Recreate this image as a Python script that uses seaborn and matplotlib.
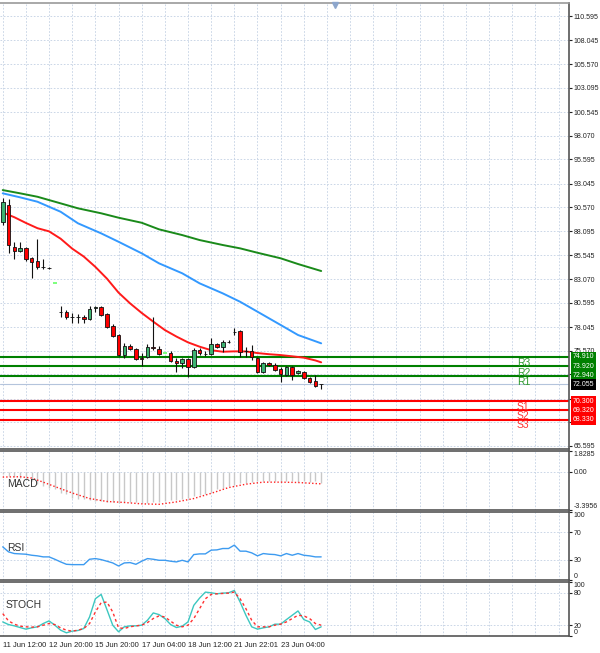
import numpy as np
import pandas as pd
import seaborn as sns
import matplotlib.pyplot as plt
import matplotlib.transforms as mtransforms

# 4H candles
opens = [89.04, 90.81, 86.42, 86.00, 86.31, 85.27, 84.95, 84.35, 84.24, 82.65,
         79.60, 79.62, 79.10, 79.10, 79.09, 78.88, 80.03, 80.14, 79.40, 78.15,
         77.21, 75.12, 76.06, 75.75, 74.85, 74.91, 75.98, 75.75, 75.33, 75.33,
         74.49, 74.28, 74.70, 73.86, 75.64, 75.24, 75.22, 76.27, 75.95, 76.50,
         77.50, 77.63, 75.55, 75.53, 74.80, 73.34, 74.28, 74.07, 73.65, 73.02,
         73.86, 73.23, 73.34, 72.71, 72.39, 72.10]
highs = [91.55, 91.44, 86.93, 86.93, 86.42, 85.37, 87.26, 85.16, 84.32, 82.65,
         80.24, 79.82, 79.51, 79.40, 79.30, 80.24, 80.24, 80.24, 79.51, 78.36,
         77.31, 76.38, 76.27, 75.85, 75.33, 76.27, 79.09, 76.06, 75.33, 75.53,
         74.80, 74.80, 74.80, 75.85, 75.85, 75.53, 76.89, 76.38, 76.69, 76.69,
         77.94, 77.73, 75.95, 76.17, 74.91, 74.38, 74.38, 74.28, 73.86, 73.96,
         73.96, 73.55, 73.44, 72.81, 73.02, 72.10]
lows = [88.72, 85.79, 85.16, 85.89, 84.95, 83.17, 84.11, 84.11, 84.11, 82.65,
        79.09, 78.88, 78.46, 78.46, 78.46, 78.78, 79.62, 79.20, 77.94, 76.99,
        75.01, 74.80, 75.64, 74.59, 73.96, 74.80, 75.64, 75.12, 75.33, 74.38,
        73.34, 73.75, 72.81, 73.75, 75.12, 75.01, 75.12, 75.85, 75.43, 76.38,
        77.21, 74.91, 74.91, 74.59, 73.23, 73.23, 73.96, 73.44, 72.29, 72.92,
        72.50, 73.12, 72.60, 72.18, 71.76, 71.55]
closes = [91.13, 86.63, 86.00, 86.31, 85.16, 84.85, 84.32, 84.30, 84.20, 82.65,
          79.65, 79.09, 79.08, 79.08, 78.88, 79.93, 80.14, 79.30, 78.04, 77.10,
          75.12, 76.06, 75.75, 74.70, 74.75, 75.95, 75.88, 75.22, 75.33, 74.49,
          74.28, 74.70, 73.86, 75.64, 75.33, 75.20, 76.27, 75.95, 76.48, 76.46,
          77.54, 75.43, 75.51, 74.91, 73.34, 74.28, 74.07, 73.55, 73.12, 73.86,
          73.02, 73.44, 72.71, 72.29, 71.87, 72.055]

# moving averages (sampled along the curves)
ma_fast_bars = list(range(0, 56, 2)) + [55]
ma_fast = [90.03, 89.54, 88.94, 88.39, 88.06, 87.29, 86.25, 85.42, 84.34, 83.11,
           81.65, 80.52, 79.52, 78.61, 77.73, 77.05, 76.44, 75.99, 75.62, 75.46,
           75.50, 75.49, 75.32, 75.20, 75.11, 74.98, 74.84, 74.55, 74.35]
ma_slow_bars = [0, 3, 6, 10, 13, 17, 20, 24, 27, 31, 34, 38, 41, 44, 48, 51, 55]
ma_mid = [92.04, 91.62, 91.16, 90.11, 88.90, 87.85, 86.97, 85.76, 84.71, 83.67,
          82.62, 81.57, 80.69, 79.65, 78.26, 77.21, 76.34]
ma_slow = [92.38, 92.04, 91.68, 90.99, 90.47, 89.95, 89.49, 88.96, 88.27, 87.67,
           87.15, 86.63, 86.28, 85.82, 85.24, 84.64, 83.91]

res_levels = [74.910, 73.920, 72.940]
res_names = ['R3', 'R2', 'R1']
sup_levels = [70.300, 69.320, 68.330]
sup_names = ['S1', 'S2', 'S3']
last_price = 72.055

price_ticks = [110.595, 108.045, 105.570, 103.095, 100.545, 98.070, 95.595,
               93.045, 90.570, 88.095, 85.545, 83.070, 80.595, 78.045, 75.570,
               73.095, 70.545, 68.070, 65.595]
hidden_ticks = [73.095, 70.545]   # covered by the level boxes

macd_hist = [-0.22, -0.35, -0.48, -0.57, -0.70, -0.80, -1.05, -1.23, -1.41, -1.58,
             -1.85, -2.02, -2.29, -2.42, -2.46, -2.51, -2.60, -2.64, -2.68, -2.73,
             -2.82, -2.73, -2.73, -2.73, -2.77, -2.82, -2.73, -2.68, -2.60, -2.55,
             -2.51, -2.42, -2.29, -2.16, -2.11, -1.98, -1.80, -1.58, -1.41, -1.28,
             -1.14, -1.01, -0.97, -0.92, -0.84, -0.79, -0.79, -0.79, -0.88, -0.79,
             -0.79, -0.88, -0.84, -0.88, -0.84, -1.01]
macd_sig_bars = [0, 3, 5, 7, 9, 12, 15, 18, 21, 24, 27, 30, 33, 36, 39, 42, 45, 48, 51, 54, 55]
macd_sig = [-0.48, -0.45, -0.57, -0.93, -1.32, -1.89, -2.38, -2.64, -2.73, -2.85,
            -2.89, -2.68, -2.38, -1.92, -1.41, -1.11, -0.93, -0.93, -0.96, -1.05, -1.08]

rsi = [48.8, 41.4, 38.9, 38.4, 37.9, 36.4, 35.5, 34.0, 34.0, 30.5,
       26.6, 23.1, 22.6, 22.6, 22.6, 30.5, 31.5, 30.0, 27.6, 25.1,
       20.6, 25.1, 25.6, 23.1, 27.6, 31.5, 30.5, 29.0, 29.0, 27.6,
       26.6, 29.0, 26.6, 37.4, 38.4, 38.4, 43.9, 44.3, 46.3, 46.3,
       51.3, 42.4, 42.4, 39.9, 35.5, 38.9, 37.9, 37.4, 35.5, 38.9,
       36.4, 38.9, 36.4, 35.5, 34.0, 34.0]

stoch_k = [26.1, 21.2, 18.8, 15.7, 12.7, 15.1, 17.0, 23.1, 28.0, 20.0,
           10.8, 5.9, 9.0, 10.2, 13.9, 35.3, 69.0, 77.0, 48.8, 20.0,
           7.8, 17.0, 18.8, 18.8, 20.0, 29.2, 42.7, 39.6, 32.3, 21.2,
           15.7, 18.2, 26.1, 56.8, 70.2, 81.3, 80.0, 78.2, 79.4, 80.0,
           84.3, 62.9, 38.4, 17.0, 12.7, 15.1, 17.0, 21.9, 21.9, 30.4,
           38.4, 46.4, 30.4, 26.1, 12.1, 17.0]
stoch_d = [41.5, 28.0, 21.9, 18.2, 17.0, 16.4, 17.0, 20.0, 23.1, 21.2,
           15.1, 10.8, 9.0, 10.8, 13.9, 23.1, 44.5, 61.7, 62.9, 44.5,
           15.1, 13.9, 17.0, 18.8, 20.0, 24.9, 32.3, 37.2, 35.3, 27.4,
           20.0, 17.0, 20.0, 32.3, 50.6, 69.0, 77.0, 78.2, 78.8, 79.4,
           81.3, 69.0, 50.6, 29.2, 17.0, 17.0, 17.0, 20.0, 21.9, 26.1,
           32.3, 38.4, 37.2, 32.3, 23.1, 20.0]

date_labels = ['11 Jun 12:00', '12 Jun 20:00', '15 Jun 20:00', '17 Jun 04:00',
               '18 Jun 12:00', '21 Jun 22:01', '23 Jun 04:00']

df = pd.DataFrame({'bar': np.arange(len(opens)), 'open': opens, 'high': highs,
                   'low': lows, 'close': closes, 'hist': macd_hist,
                   'rsi': rsi, 'k': stoch_k, 'd': stoch_d})

sns.set_style('white')
plt.rcParams['font.family'] = ['Liberation Sans', 'DejaVu Sans']

W, H = 600, 653
fig = plt.figure(figsize=(W / 100, H / 100), dpi=100)


def panel(top, bottom):
    return fig.add_axes([0, (H - bottom) / H, 569 / W, (bottom - top) / H])


ax = panel(3, 449)
ax_macd = panel(451, 510)
ax_rsi = panel(512, 580)
ax_sto = panel(582, 636)

grid_col = '#c3d0e3'
dash = (0, (2, 2))
xmin, xmax = -0.47, 97.8
vgrid = np.arange(0, 98, 4)
lab_size = 5

for a in (ax, ax_macd, ax_rsi, ax_sto):
    a.set_xlim(xmin, xmax)
    a.set_xticks(vgrid)
    a.set_xticklabels([])
    a.yaxis.tick_right()
    a.tick_params(axis='y', labelsize=lab_size, length=2, pad=1.5, colors='#222')
    a.tick_params(axis='x', length=0)
    for x in vgrid:
        a.axvline(x, color=grid_col, ls=dash, lw=0.6, zorder=0)
    for s in ['left', 'top', 'bottom', 'right']:
        a.spines[s].set_color('#555')
        a.spines[s].set_linewidth(1.2)
    a.spines['left'].set_visible(False)

# ---- main price panel
ax.set_ylim(65.28, 111.96)
ax.set_yticks(price_ticks)
ax.set_yticklabels(['' if v in hidden_ticks else f'{v:.3f}' for v in price_ticks])
for v in price_ticks:
    ax.axhline(v, color=grid_col, ls=dash, lw=0.6, zorder=0)
ax.spines['top'].set_color('#999')

sns.lineplot(x=ma_slow_bars, y=ma_slow, ax=ax, color='#1a8a1a', lw=1.4, zorder=2)
sns.lineplot(x=ma_slow_bars, y=ma_mid, ax=ax, color='#3399ff', lw=1.4, zorder=2)
sns.lineplot(x=ma_fast_bars, y=ma_fast, ax=ax, color='#ff1a1a', lw=1.4, zorder=2)

ax.axhline(last_price, color='#b4c4dc', lw=0.8, zorder=1)
for lv, nm in zip(res_levels, res_names):
    ax.axhline(lv, color='#008000', lw=1.5, zorder=1)
    ax.text(88.8, lv - 0.15, nm, color='#2e9a2e', fontsize=7.5, va='top', ha='left')
for lv, nm in zip(sup_levels, sup_names):
    ax.axhline(lv, color='#ff0000', lw=1.5, zorder=1)
    ax.text(88.8, lv - 0.05, nm, color='#ff3333', fontsize=7.5, va='top', ha='left')

# candles
for r in df.itertuples():
    if r.open == r.high == r.low == r.close:
        ax.hlines(r.close, r.bar - 0.3, r.bar + 0.3, color='#66ff66', lw=1.2, zorder=3)
        continue
    ax.vlines(r.bar, r.low, r.high, color='#111', lw=0.8, zorder=3)
    up = r.close >= r.open
    ax.bar(r.bar, max(abs(r.close - r.open), 0.04), bottom=min(r.open, r.close),
           width=0.62, color='#3cb371' if up else '#ff0000', edgecolor='#111',
           linewidth=0.6, zorder=4)

blend = mtransforms.blended_transform_factory(ax.transAxes, ax.transData)
for lv, col in zip(res_levels + [last_price] + sup_levels,
                   ['#008000'] * 3 + ['#000000'] + ['#ff0000'] * 3):
    ax.text(1.006, lv, f'{lv:.3f}', transform=blend, color='white', fontsize=lab_size,
            va='center', ha='left', zorder=10, clip_on=False,
            bbox=dict(boxstyle='square,pad=0.25', fc=col, ec='none'))

ax.plot([57.4], [111.7], marker='v', color='#8da6cc', markersize=5, clip_on=False, zorder=10)

# ---- MACD
ax_macd.set_ylim(-3.3956, 1.8285)
ax_macd.axhline(0, color=grid_col, ls=dash, lw=0.6, zorder=0)
ax_macd.vlines(df['bar'], 0, df['hist'], color='#c8c8c8', lw=1.0, zorder=2)
sns.lineplot(x=macd_sig_bars, y=macd_sig, ax=ax_macd, color='#ff2020', lw=1.0,
             linestyle=(0, (1, 1.5)), zorder=3)
ax_macd.set_yticks([1.8285, 0, -3.3956])
ax_macd.set_yticklabels(['1.8285', '0.00', '-3.3956'])
ax_macd.text(0.8, -1.05, 'MACD', fontsize=7.5, color='#333', va='center')

# ---- RSI
ax_rsi.set_ylim(0, 100)
for v in (70, 30):
    ax_rsi.axhline(v, color=grid_col, ls=dash, lw=0.6, zorder=0)
sns.lineplot(data=df, x='bar', y='rsi', ax=ax_rsi, color='#3d9bf0', lw=1.0, zorder=3)
ax_rsi.set_yticks([100, 70, 30, 0])
ax_rsi.text(0.8, 47, 'RSI', fontsize=7.5, color='#333', va='center')

# ---- Stochastic
ax_sto.set_ylim(0, 100)
for v in (80, 20):
    ax_sto.axhline(v, color=grid_col, ls=dash, lw=0.6, zorder=0)
sns.lineplot(data=df, x='bar', y='k', ax=ax_sto, color='#3cc7c0', lw=1.0, zorder=3)
sns.lineplot(data=df, x='bar', y='d', ax=ax_sto, color='#ff3030', lw=1.0,
             linestyle=(0, (2, 2)), zorder=3)
ax_sto.set_yticks([100, 80, 20, 0])
ax_sto.text(0.5, 58, 'STOCH', fontsize=7.5, color='#333', va='center')

for a in (ax, ax_macd, ax_rsi, ax_sto):
    a.set_xlabel('')
    a.set_ylabel('')

xt = list(range(0, 8 * len(date_labels), 8))
ax_sto.set_xticks(vgrid)
ax_sto.set_xticklabels([date_labels[xt.index(x)] if x in xt else '' for x in vgrid])
ax_sto.tick_params(axis='x', labelsize=lab_size + 0.5, length=2, pad=2, colors='#222')
for lab in ax_sto.get_xticklabels():
    lab.set_ha('left')

# edge labels sit inside the panel like the terminal does
for a, bot_lab in ((ax_macd, 2), (ax_rsi, 3), (ax_sto, 3)):
    labs = a.get_yticklabels()
    labs[0].set_va('top')
    labs[bot_lab].set_va('bottom')

fig.savefig('out.png', dpi=100)
